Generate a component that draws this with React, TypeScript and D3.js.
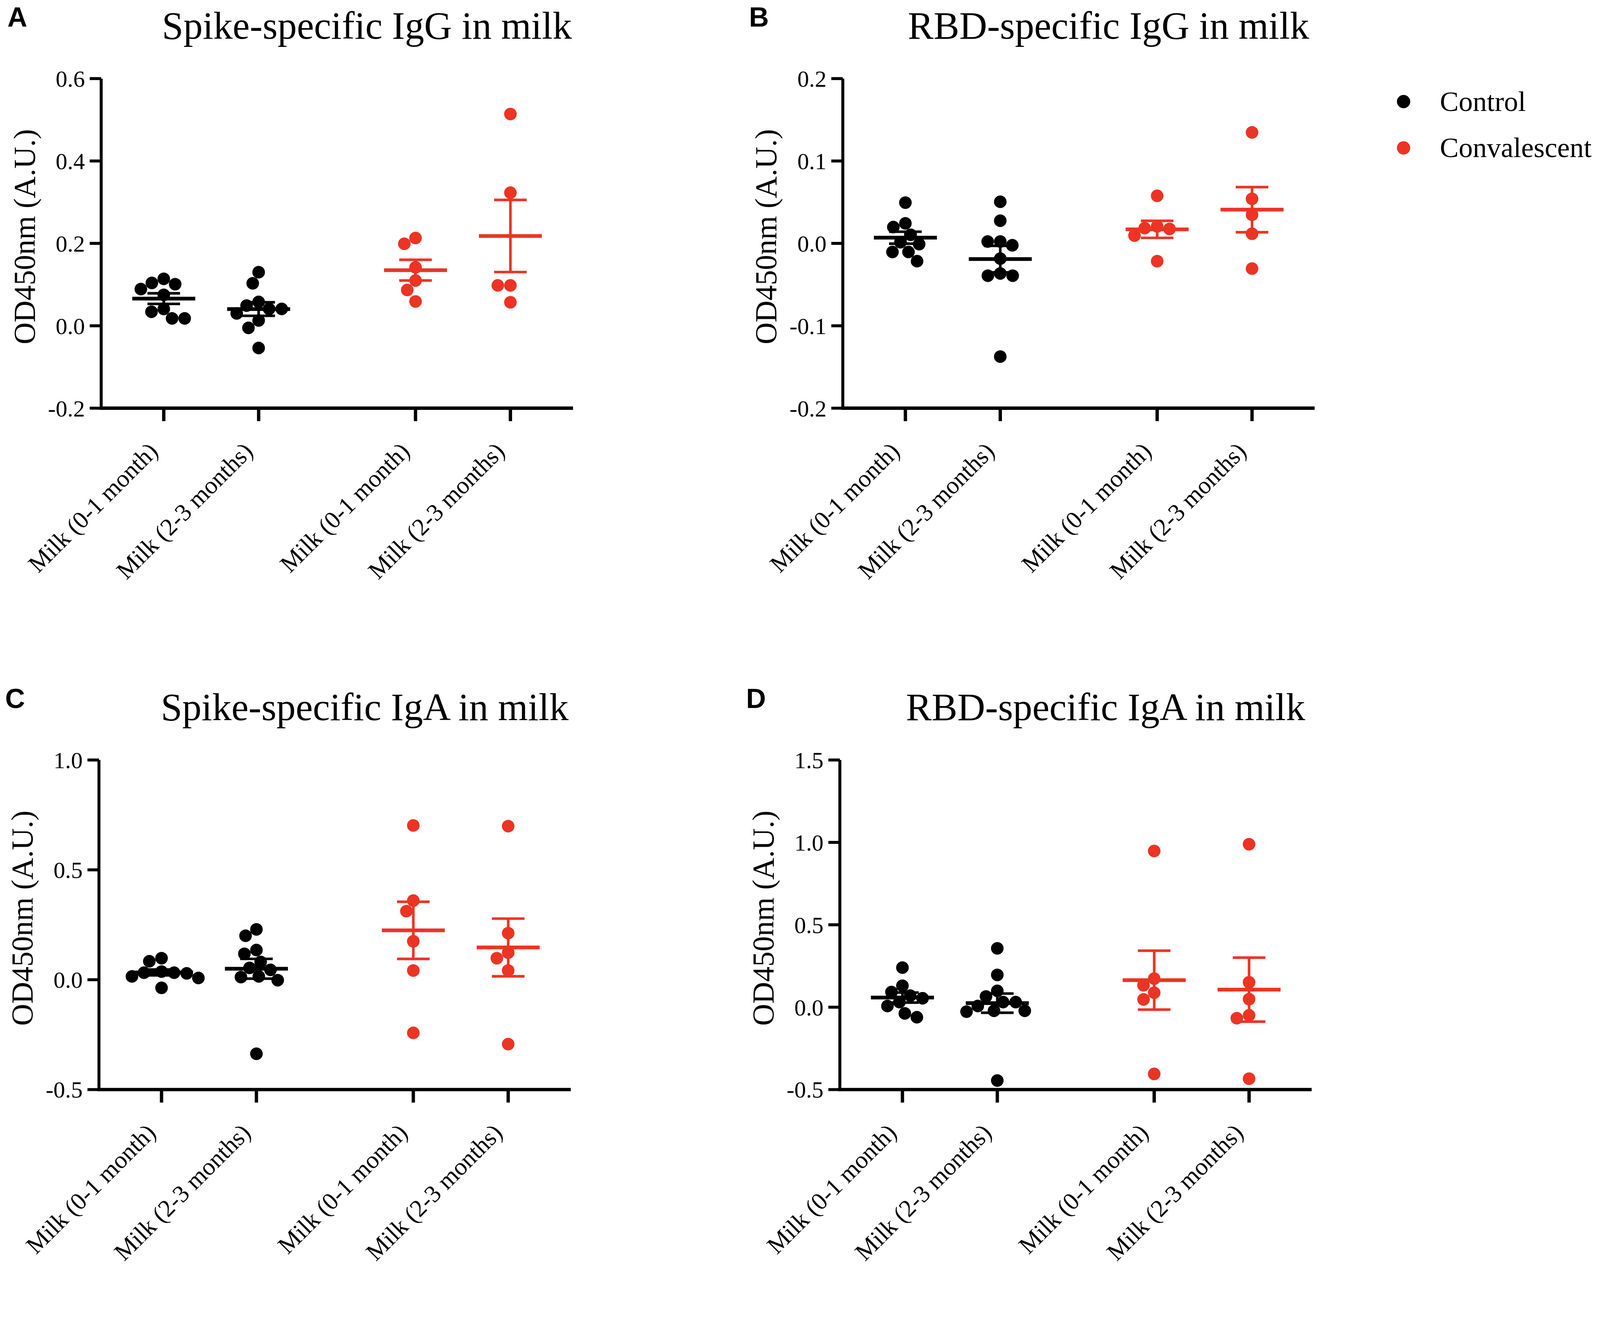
import React from 'react'
import * as d3 from 'd3';

// categories / groups
const timepoints = ['Milk (0-1 month)', 'Milk (2-3 months)'];
const groups = ['Control', 'Convalescent'];

// A: Spike-specific IgG
const spikeIgGControl01 = [0.104, 0.089, 0.075, 0.101, 0.114, 0.034, 0.018, 0.018, 0.041];
const spikeIgGControl23 = [0.130, 0.103, 0.041, 0.049, 0.058, 0.041, 0.013, -0.005, -0.054, 0.030];
const spikeIgGConv01 = [0.199, 0.213, 0.142, 0.110, 0.087, 0.059];
const spikeIgGConv23 = [0.514, 0.323, 0.098, 0.098, 0.057];

// B: RBD-specific IgG
const rbdIgGControl01 = [0.0495, 0.0198, 0.0243, 0.0104, 0.0014, -0.0009, -0.0104, -0.0104, -0.0216];
const rbdIgGControl23 = [0.0505, 0.0275, 0.0023, -0.0023, 0.0023, -0.0185, -0.0392, -0.0392, -0.0365, -0.1374];
const rbdIgGConv01 = [0.0577, 0.0207, 0.0176, 0.0095, 0.0185, -0.0216];
const rbdIgGConv23 = [0.1347, 0.0541, 0.0347, 0.0117, -0.0306];

// C: Spike-specific IgA
const spikeIgAControl01 = [0.098, 0.084, 0.037, 0.029, 0.015, 0.032, 0.032, -0.037, 0.008];
const spikeIgAControl23 = [0.229, 0.200, 0.135, 0.118, 0.081, 0.045, 0.054, 0.012, -0.002, 0.015, -0.337];
const spikeIgAConv01 = [0.702, 0.360, 0.312, 0.175, 0.042, -0.242];
const spikeIgAConv23 = [0.699, 0.212, 0.098, 0.123, 0.042, -0.293];

// D: RBD-specific IgA
const rbdIgAControl01 = [0.240, 0.130, 0.092, 0.070, 0.054, 0.031, 0.007, -0.038, -0.061];
const rbdIgAControl23 = [0.357, 0.196, 0.099, 0.065, 0.031, 0.031, 0.007, -0.022, -0.027, -0.022, -0.445];
const rbdIgAConv01 = [0.948, 0.173, 0.088, 0.133, 0.047, -0.405];
const rbdIgAConv23 = [0.989, 0.151, 0.049, -0.049, -0.067, -0.434];

// y tick labels
const ticksA = [-0.2, 0.0, 0.2, 0.4, 0.6];
const ticksB = [-0.2, -0.1, 0.0, 0.1, 0.2];
const ticksC = [-0.5, 0.0, 0.5, 1.0];
const ticksD = [-0.5, 0.0, 0.5, 1.0, 1.5];

const colors = ['#000000', '#ec3424'];
const serif = '"Liberation Serif", "Times New Roman", serif';
const sans = '"Liberation Sans", Arial, sans-serif';

const fmt = d3.formatLocale({ decimal: '.', thousands: ',', grouping: [3], currency: ['', ''], minus: '-' }).format('.1f');

const panels = [
  { letter: 'A', title: 'Spike-specific IgG in milk', ox: 273, oy: 212, ticks: ticksA,
    series: [[spikeIgGControl01, spikeIgGControl23], [spikeIgGConv01, spikeIgGConv23]] },
  { letter: 'B', title: 'RBD-specific IgG in milk', ox: 2274, oy: 212, ticks: ticksB,
    series: [[rbdIgGControl01, rbdIgGControl23], [rbdIgGConv01, rbdIgGConv23]] },
  { letter: 'C', title: 'Spike-specific IgA in milk', ox: 267, oy: 2050, ticks: ticksC,
    series: [[spikeIgAControl01, spikeIgAControl23], [spikeIgAConv01, spikeIgAConv23]] },
  { letter: 'D', title: 'RBD-specific IgA in milk', ox: 2266, oy: 2050, ticks: ticksD,
    series: [[rbdIgAControl01, rbdIgAControl23], [rbdIgAConv01, rbdIgAConv23]] },
];

const W = 4317;
const H = 3432;
const width = 1273;
const height = 889;
const r = 17;

// simple beeswarm: spread dots sideways so they don't sit on top of each other
function swarm(values: number[], y: (v: number) => number) {
  const d = 2 * r * 1.0;
  const placed: { x: number, y: number }[] = [];
  const out: number[] = new Array(values.length);
  const order = values.map((_, i) => i).sort((a, b) => values[b] - values[a]);
  for (const i of order) {
    const py = y(values[i]);
    const cands = [0];
    placed.forEach(p => {
      const dy = Math.abs(p.y - py);
      if (dy < d) {
        const w = Math.sqrt(d * d - dy * dy);
        cands.push(p.x - w, p.x + w);
      }
    });
    cands.sort((a, b) => Math.abs(a) - Math.abs(b));
    const cx = cands.find(c => placed.every(p => (p.x - c) ** 2 + (p.y - py) ** 2 >= d * d - 0.01)) ?? 0;
    out[i] = cx;
    placed.push({ x: cx, y: py });
  }
  return out;
}

const Panel: React.FC<{ p: typeof panels[number] }> = ({ p }) => {
  const y = d3.scaleLinear()
    .domain([p.ticks[0], p.ticks[p.ticks.length - 1]])
    .range([height, 0]);
  const xGroup = d3.scalePoint().domain(groups).range([0, width]).padding(0.437);
  const xTime = d3.scalePoint().domain(timepoints).range([-128, 128]);
  const xPos = (g: string, t: string) => (xGroup(g) as number) + (xTime(t) as number);

  return (
    <g transform={`translate(${p.ox}, ${p.oy})`}>
      <text x={-253} y={-140} fontFamily={sans} fontWeight='bold' fontSize={74}>{p.letter}</text>
      <text x={717} y={-108} fontFamily={serif} fontSize={104} textAnchor='middle'>{p.title}</text>
      <text
        transform={`translate(-208, ${height / 2 - 18}) rotate(-90)`}
        fontFamily={serif} fontSize={82} textAnchor='middle' dy='0.35em'
      >OD450nm (A.U.)</text>

      {/* y axis */}
      <line x1={0} x2={0} y1={0} y2={height + 4} stroke='#000' strokeWidth={8} />
      {p.ticks.map(t => (
        <g key={t} transform={`translate(0, ${y(t)})`}>
          <line x1={-31} x2={0} stroke='#000' strokeWidth={8} />
          <text x={-44} dy='0.35em' textAnchor='end' fontFamily={serif} fontSize={63}>{fmt(t)}</text>
        </g>
      ))}

      {/* x axis */}
      <line x1={-4} x2={width} y1={height} y2={height} stroke='#000' strokeWidth={9} />
      {groups.map(g => timepoints.map(t => (
        <g key={g + t} transform={`translate(${xPos(g, t)}, ${height})`}>
          <line y1={0} y2={35} stroke='#000' strokeWidth={9} />
          <text
            transform={`translate(-12, 120) rotate(-45)`}
            textAnchor='end' fontFamily={serif} fontSize={66}
          >{t}</text>
        </g>
      )))}

      {/* points + mean ± SEM */}
      {p.series.map((grp, gi) => grp.map((vals, ti) => {
        const cx = xPos(groups[gi], timepoints[ti]);
        const offs = swarm(vals, y);
        const m = d3.mean(vals) as number;
        const sem = (d3.deviation(vals) as number) / Math.sqrt(vals.length);
        const col = colors[gi];
        return (
          <g key={`${gi}-${ti}`}>
            {vals.map((v, i) => (
              <circle key={i} cx={cx + offs[i]} cy={y(v)} r={r} fill={col} />
            ))}
            <line x1={cx} x2={cx} y1={y(m + sem)} y2={y(m - sem)} stroke={col} strokeWidth={7} />
            <line x1={cx - 44} x2={cx + 44} y1={y(m + sem)} y2={y(m + sem)} stroke={col} strokeWidth={7} />
            <line x1={cx - 44} x2={cx + 44} y1={y(m - sem)} y2={y(m - sem)} stroke={col} strokeWidth={7} />
            <line x1={cx - 85} x2={cx + 85} y1={y(m)} y2={y(m)} stroke={col} strokeWidth={10} />
          </g>
        );
      }))}
    </g>
  );
};

const App: React.FC = () => {
  const legendY = d3.scalePoint().domain(groups).range([274, 399]);
  return (
    <svg
      viewBox={`0 0 ${W} ${H}`}
      preserveAspectRatio='xMinYMin meet'
      style={{ position: 'fixed', left: 0, top: 0, width: '100vw', height: '100vh', display: 'block', background: '#fff' }}
    >
      <rect width={W} height={H} fill='#fff' />
      {panels.map(p => <Panel key={p.letter} p={p} />)}
      {groups.map((g, i) => (
        <g key={g} transform={`translate(3787, ${legendY(g)})`}>
          <circle r={r + 1} fill={colors[i]} />
          <text x={98} dy='0.33em' fontFamily={serif} fontSize={76}>{g}</text>
        </g>
      ))}
    </svg>
  )
}

export default App
